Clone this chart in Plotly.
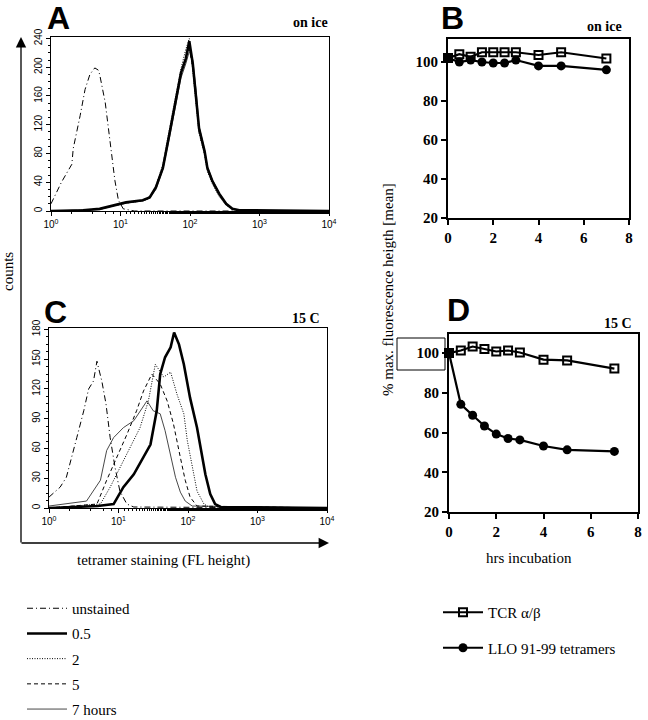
import plotly.graph_objects as go

W, H = 648, 720

# ---------------- Data ----------------
# Panel A (on ice) histograms: log10 fluorescence positions and counts
A_unst_lg = [0.0, 0.15, 0.30, 0.32, 0.42, 0.49, 0.56, 0.63, 0.68, 0.70, 0.78, 0.85, 0.92, 0.97, 1.04, 1.20, 4.0]
A_unst = [10, 40, 65, 87, 133, 169, 190, 199, 196, 190, 151, 96, 42, 15, 3, 0, 0]

A_lg = [0.0, 0.46, 0.70, 0.89, 1.08, 1.32, 1.42, 1.51, 1.61, 1.70, 1.80, 1.87, 1.94, 1.99,
        2.04, 2.09, 2.13, 2.21, 2.25, 2.32, 2.42, 2.52, 2.61, 2.71, 4.0]
A_05 = [0, 1, 3, 8, 12, 15, 19, 33, 60, 105, 155, 192, 212, 236, 205, 160, 115, 83, 60, 42, 24, 10, 3, 1, 0]
A_2 = [0, 1, 3, 7, 11, 14, 18, 35, 65, 112, 162, 198, 225, 240, 195, 150, 108, 78, 55, 38, 20, 8, 2, 1, 0]
A_5 = [0, 1, 3, 8, 12, 15, 20, 34, 62, 108, 158, 190, 215, 225, 200, 155, 110, 80, 58, 40, 22, 9, 3, 1, 0]
A_7 = [0, 1, 2, 7, 11, 14, 18, 30, 58, 100, 150, 185, 205, 222, 210, 165, 118, 85, 62, 44, 25, 11, 3, 1, 0]

# Panel C (15 C) histograms
C_unst_lg = [0.0, 0.16, 0.25, 0.33, 0.40, 0.50, 0.57, 0.64, 0.69, 0.71, 0.76, 0.82, 0.88, 0.95, 1.02, 1.12, 1.22, 4.0]
C_unst = [11, 21, 31, 54, 71, 98, 120, 128, 148, 142, 128, 105, 71, 41, 17, 4, 1, 0]

C_05_lg = [0.0, 0.70, 0.93, 1.07, 1.22, 1.36, 1.46, 1.55, 1.60, 1.67, 1.75, 1.80, 1.87, 1.94,
           2.03, 2.13, 2.18, 2.25, 2.32, 2.39, 2.47, 4.0]
C_05 = [0, 2, 4, 21, 34, 51, 64, 98, 135, 152, 162, 177, 165, 145, 111, 81, 61, 34, 14, 4, 1, 0]

C_2_lg = [0.0, 0.74, 0.88, 1.02, 1.17, 1.31, 1.43, 1.53, 1.65, 1.75, 1.84, 1.94, 1.99, 2.06, 2.13, 2.23, 2.30, 4.0]
C_2 = [0, 4, 21, 41, 61, 81, 108, 145, 132, 137, 115, 95, 68, 41, 17, 4, 1, 0]

C_5_lg = [0.0, 0.69, 0.83, 0.98, 1.12, 1.26, 1.36, 1.48, 1.60, 1.70, 1.79, 1.89, 1.96, 2.03, 2.13, 4.0]
C_5 = [0, 4, 28, 51, 74, 98, 118, 135, 125, 108, 85, 51, 28, 11, 2, 0]

C_7_lg = [0.0, 0.54, 0.74, 0.83, 0.93, 1.07, 1.22, 1.31, 1.41, 1.50, 1.60, 1.67, 1.75, 1.82, 1.89, 1.96, 2.06, 4.0]
C_7 = [2, 7, 28, 58, 71, 81, 88, 98, 108, 98, 95, 78, 54, 31, 16, 7, 2, 0]

# Panels B / D: % max fluorescence vs hours
hrs = [0, 0.5, 1, 1.5, 2, 2.5, 3, 4, 5, 7]
B_tcr = [102, 104, 102.7, 105, 105, 105, 105, 103.6, 105, 101.8]
B_llo = [102, 100, 101, 100, 99.5, 99.5, 101, 98, 98, 96]
D_tcr = [100, 101.3, 103.3, 102, 100.8, 101.3, 100.3, 96.7, 96.3, 92.2]
D_llo = [100, 74.2, 68.7, 63.3, 59.2, 57, 56.3, 53.2, 51.3, 50.5]

hist_names = ["unstained", "0.5", "2", "5", "7 hours"]
log_tickvals = [1, 10, 100, 1000, 10000]
log_ticktext = ["10<sup>0</sup>", "10<sup>1</sup>", "10<sup>2</sup>", "10<sup>3</sup>", "10<sup>4</sup>"]

# ---------------- helpers ----------------
def px(x):
    return x / W

def py(y):
    return 1 - y / H

styles = {
    "unstained": dict(color="black", width=1, dash="6px,3px,1px,3px"),
    "0.5": dict(color="black", width=2.6, dash="solid"),
    "2": dict(color="black", width=1, dash="1px,1.5px"),
    "5": dict(color="black", width=1, dash="4px,3px"),
    "7 hours": dict(color="#333", width=0.9, dash="solid"),
}

fig = go.Figure()

A_sets = [(A_unst_lg, A_unst), (A_lg, A_05), (A_lg, A_2), (A_lg, A_5), (A_lg, A_7)]
C_sets = [(C_unst_lg, C_unst), (C_05_lg, C_05), (C_2_lg, C_2), (C_5_lg, C_5), (C_7_lg, C_7)]

order = [4, 3, 2, 0, 1]
for i in order:
    name = hist_names[i]
    lg, cnt = A_sets[i]
    fig.add_trace(go.Scatter(x=[10 ** v for v in lg], y=cnt, mode="lines", name=name,
                             line=styles[name], xaxis="x", yaxis="y", showlegend=False))
for i in order:
    name = hist_names[i]
    lg, cnt = C_sets[i]
    fig.add_trace(go.Scatter(x=[10 ** v for v in lg], y=cnt, mode="lines", name=name,
                             line=styles[name], xaxis="x3", yaxis="y3", showlegend=True,
                             legend="legend", legendgroup=name, legendrank=i + 1))

mk_sq = dict(symbol="square-open", size=8, color="black", line=dict(width=2, color="black"))
mk_ci = dict(symbol="circle", size=9, color="black")
fig.add_trace(go.Scatter(x=hrs, y=B_llo, mode="lines+markers", line=dict(color="black", width=2.2),
                         marker=mk_ci, xaxis="x2", yaxis="y2", showlegend=False, cliponaxis=False))
fig.add_trace(go.Scatter(x=hrs, y=B_tcr, mode="lines+markers", line=dict(color="black", width=2.2),
                         marker=mk_sq, xaxis="x2", yaxis="y2", showlegend=False, cliponaxis=False))
fig.add_trace(go.Scatter(x=hrs, y=D_llo, mode="lines+markers", name="LLO 91-99 tetramers",
                         line=dict(color="black", width=2.2), marker=mk_ci, xaxis="x4", yaxis="y4",
                         legend="legend2", legendgroup="llo", legendrank=2, cliponaxis=False))
fig.add_trace(go.Scatter(x=hrs, y=D_tcr, mode="lines+markers", name="TCR α/β",
                         line=dict(color="black", width=2.2), marker=mk_sq, xaxis="x4", yaxis="y4",
                         legend="legend2", legendgroup="tcr", legendrank=1, cliponaxis=False))

sans_small = dict(family="Liberation Sans", size=10, color="black")
serif_bold = dict(family="Liberation Serif", size=15, color="black", weight="bold")

def hist_x(domain, anchor):
    return dict(domain=domain, anchor=anchor, type="log", range=[0, 4], showgrid=False, zeroline=False,
                showline=True, linecolor="black", linewidth=1, mirror=True, automargin=False,
                tickvals=log_tickvals, ticktext=log_ticktext, ticks="outside", ticklen=4,
                tickcolor="black", tickfont=sans_small,
                minor=dict(ticks="outside", ticklen=2, tickcolor="black", showgrid=False))

def hist_y(domain, anchor, rng, dtick):
    return dict(domain=domain, anchor=anchor, range=rng, showgrid=False, zeroline=False,
                showline=True, linecolor="black", linewidth=1, mirror=True, automargin=False,
                dtick=dtick, tick0=0, ticks="outside", ticklen=4, tickcolor="black",
                tickfont=sans_small, tickangle=-90,
                minor=dict(ticks="outside", ticklen=2, dtick=dtick / 4, tickcolor="black", showgrid=False))

def line_x(domain, anchor):
    return dict(domain=domain, anchor=anchor, range=[0, 8], dtick=2, showgrid=False, zeroline=False,
                showline=True, linecolor="black", linewidth=2, mirror=True, automargin=False,
                ticks="outside", ticklen=5, tickwidth=1.5, tickcolor="black", tickfont=serif_bold)

def line_y(domain, anchor, rng):
    return dict(domain=domain, anchor=anchor, range=rng, dtick=20, tick0=0, showgrid=False, zeroline=False,
                showline=True, linecolor="black", linewidth=2, mirror=True, automargin=False,
                ticks="outside", ticklen=5, tickwidth=1.5, tickcolor="black", tickfont=serif_bold)

fig.update_layout(
    width=W, height=H, margin=dict(l=0, r=0, t=0, b=0, autoexpand=False),
    paper_bgcolor="white", plot_bgcolor="white",
    xaxis=hist_x([px(51), px(329)], "y"),
    yaxis=hist_y([py(211), py(37)], "x", [0, 242], 40),
    xaxis3=hist_x([px(49), px(327)], "y3"),
    yaxis3=hist_y([py(508), py(328)], "x3", [0, 181.5], 30),
    xaxis2=line_x([px(448), px(629)], "y2"),
    yaxis2=line_y([py(218), py(39)], "x2", [20, 111.8]),
    xaxis4=line_x([px(449), px(638)], "y4"),
    yaxis4=line_y([py(512), py(334)], "x4", [20, 109.6]),
    legend=dict(x=px(22), y=py(592), xanchor="left", yanchor="top", traceorder="grouped",
                tracegroupgap=2.7, font=dict(family="Liberation Serif", size=15, color="black"),
                bgcolor="rgba(0,0,0,0)", itemwidth=40),
    legend2=dict(x=px(438), y=py(596), xanchor="left", yanchor="top", traceorder="grouped",
                 tracegroupgap=13, font=dict(family="Liberation Serif", size=15, color="black"),
                 bgcolor="rgba(0,0,0,0)", itemwidth=40),
)

ann = []
def text(x, y, t, size=15, family="Liberation Serif", bold=False, angle=0, xanchor="center"):
    ann.append(dict(x=px(x), y=py(y), xref="paper", yref="paper", text=(f"<b>{t}</b>" if bold else t),
                    showarrow=False, textangle=angle, xanchor=xanchor, yanchor="middle",
                    font=dict(family=family, size=size, color="black")))

text(58, 18, "A", 32, "Liberation Sans", True)
text(452, 18, "B", 32, "Liberation Sans", True)
text(55, 312, "C", 32, "Liberation Sans", True)
text(458, 310, "D", 32, "Liberation Sans", True)
text(330, 22, "on ice", 14, bold=True, xanchor="right")
text(624, 27, "on ice", 14, bold=True, xanchor="right")
text(322, 318, "15 C", 14, bold=True, xanchor="right")
text(634, 324, "15 C", 14, bold=True, xanchor="right")
text(8, 272, "counts", 15, angle=-90)
text(163, 560, "tetramer staining (FL height)", 15)
text(388, 290, "% max. fluorescence heigth [mean]", 15, angle=-90)
text(529, 558, "hrs incubation", 15)

# arrows for the histogram axes
ann.append(dict(x=px(21), y=py(37), xref="paper", yref="paper", ax=0, ay=507,
                axref="pixel", ayref="pixel", text="", showarrow=True, arrowhead=2,
                arrowsize=1.6, arrowwidth=1.3, arrowcolor="black"))
ann.append(dict(x=px(329), y=py(543), xref="paper", yref="paper", ax=-309, ay=0,
                axref="pixel", ayref="pixel", text="", showarrow=True, arrowhead=2,
                arrowsize=1.6, arrowwidth=1.3, arrowcolor="black"))
fig.update_layout(annotations=ann)

fig.add_shape(type="rect", xref="paper", yref="paper", x0=px(397), x1=px(445), y0=py(370), y1=py(338),
              line=dict(color="black", width=1))

fig.write_html("out.html", config={"displayModeBar": False},
               post_script="document.body.style.margin='0px';")
